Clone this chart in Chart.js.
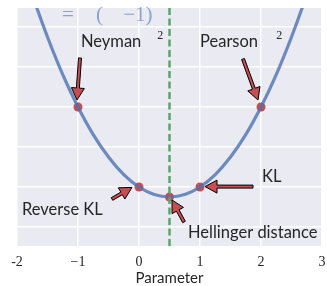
<!DOCTYPE html>
<html>
<head>
<meta charset="utf-8">
<script src="https://cdn.jsdelivr.net/npm/chart.js@4"></script>
<style>
  body { margin: 0; background: #fff; }
</style>
</head>
<body>
<canvas id="c" width="327" height="286"></canvas>
<script>
// curve samples
const curveX = [-2, -1.75, -1.5, -1.25, -1, -0.75, -0.5, -0.25, 0, 0.25, 0.5, 0.75, 1, 1.25, 1.5, 1.75, 2, 2.25, 2.5, 2.75, 3];
const curveY = [7.0, 5.81, 4.75, 3.81, 3.0, 2.31, 1.75, 1.31, 1.0, 0.81, 0.75, 0.81, 1.0, 1.31, 1.75, 2.31, 3.0, 3.81, 4.75, 5.81, 7.0];

// marked divergences
const markX = [-1, 0, 0.5, 1, 2];
const markY = [3.0, 1.0, 0.75, 1.0, 3.0];

// vertical dashed line
const vlineX = 0.5;

// ticks
const xTicks = [-2, -1, 0, 1, 2, 3];
const xTickLabels = ['-2', '\u22121', '0', '1', '2', '3'];
const yTicks = [0, 1, 2, 3, 4, 5];

// annotation labels: text, x, y (data units, left / middle)
const labelText = ['Neyman', 'Pearson', 'KL', 'Reverse KL', 'Hellinger distance'];
const labelX = [-0.951, 1.0, 2.016, -1.918, 0.803];
const labelY = [4.625, 4.625, 1.25, 0.425, -0.15];

// arrows: tail -> head (data units)
const arrowTailX = [-0.967, 1.705, 1.869, -0.443, 0.738];
const arrowTailY = [4.225, 4.2, 1.01, 0.7, 0.125];
const arrowHeadX = [-1.016, 1.951, 1.082, -0.115, 0.541];
const arrowHeadY = [3.175, 3.175, 1.01, 0.99, 0.675];

// superscripts
const supText = ['2', '2'];
const supX = [0.3, 2.25];
const supY = [4.775, 4.775];

// formula fragments at the top
const formulaText = ['=', '(', '\u22121)'];
const formulaX = [-1.262, -0.705, -0.26];
const formulaY = [5.3, 5.3, 5.3];

const bgPlugin = {
    id: 'bg',
    beforeDraw(chart) {
        const { ctx, chartArea: a } = chart;
        ctx.save();
        ctx.fillStyle = '#eaeaf2';
        ctx.fillRect(a.left, a.top, a.right - a.left, a.bottom - a.top);
        ctx.restore();
    }
};

function drawArrow(ctx, x0, y0, x1, y1) {
    const dx = x1 - x0, dy = y1 - y0;
    const len = Math.hypot(dx, dy);
    const ux = dx / len, uy = dy / len;
    const nx = -uy, ny = ux;
    const hl = 12, hw = 6.5, sw = 1.5;
    const bx = x1 - ux * hl, by = y1 - uy * hl;
    ctx.beginPath();
    ctx.moveTo(x0 + nx * sw, y0 + ny * sw);
    ctx.lineTo(bx + nx * sw, by + ny * sw);
    ctx.lineTo(bx + nx * hw, by + ny * hw);
    ctx.lineTo(x1, y1);
    ctx.lineTo(bx - nx * hw, by - ny * hw);
    ctx.lineTo(bx - nx * sw, by - ny * sw);
    ctx.lineTo(x0 - nx * sw, y0 - ny * sw);
    ctx.closePath();
    ctx.fillStyle = '#c44e52';
    ctx.fill();
    ctx.lineWidth = 1;
    ctx.strokeStyle = '#000';
    ctx.stroke();
}

const notePlugin = {
    id: 'notes',
    afterDatasetsDraw(chart) {
        const { ctx, scales: { x, y } } = chart;
        ctx.save();
        ctx.textBaseline = 'middle';
        ctx.textAlign = 'left';

        ctx.font = '21px "Liberation Serif"';
        ctx.fillStyle = 'rgba(76,114,176,0.6)';
        formulaText.forEach((t, i) => {
            ctx.fillText(t, x.getPixelForValue(formulaX[i]), y.getPixelForValue(formulaY[i]));
        });

        for (let i = 0; i < arrowTailX.length; i++) {
            drawArrow(ctx,
                x.getPixelForValue(arrowTailX[i]), y.getPixelForValue(arrowTailY[i]),
                x.getPixelForValue(arrowHeadX[i]), y.getPixelForValue(arrowHeadY[i]));
        }

        ctx.font = '16.5px Lato';
        ctx.fillStyle = '#262626';
        labelText.forEach((t, i) => {
            ctx.fillText(t, x.getPixelForValue(labelX[i]), y.getPixelForValue(labelY[i]));
        });

        ctx.font = '12px "Liberation Serif"';
        supText.forEach((t, i) => {
            ctx.fillText(t, x.getPixelForValue(supX[i]), y.getPixelForValue(supY[i]));
        });
        ctx.restore();
    }
};

new Chart(document.getElementById('c'), {
    type: 'scatter',
    data: {
        datasets: [
            {
                data: [{ x: vlineX, y: -1 }, { x: vlineX, y: 6 }],
                showLine: true,
                borderColor: '#55a868',
                borderWidth: 2.5,
                borderDash: [7, 3.5],
                pointRadius: 0
            },
            {
                data: curveX.map((v, i) => ({ x: v, y: curveY[i] })),
                showLine: true,
                borderColor: 'rgba(76,114,176,0.8)',
                borderWidth: 3.2,
                tension: 0.4,
                pointRadius: 0
            },
            {
                data: markX.map((v, i) => ({ x: v, y: markY[i] })),
                backgroundColor: '#c44e52',
                borderWidth: 0,
                pointRadius: 4.5
            }
        ]
    },
    options: {
        responsive: false,
        animation: false,
        layout: { padding: { left: 17, right: 5, top: 8, bottom: 0 } },
        plugins: { legend: { display: false }, tooltip: { enabled: false } },
        scales: {
            x: {
                type: 'linear',
                min: -2,
                max: 3,
                afterBuildTicks: s => { s.ticks = xTicks.map(v => ({ value: v })); },
                afterFit: s => { s.height = 40; s.paddingLeft = 0; s.paddingRight = 0; },
                border: { display: false },
                grid: { color: '#ffffff', lineWidth: 1.5, drawTicks: false },
                ticks: {
                    padding: 8,
                    color: '#262626',
                    font: { family: '"Liberation Serif"', size: 14 },
                    callback: v => xTickLabels[xTicks.indexOf(v)]
                },
                title: {
                    display: true,
                    text: 'Parameter',
                    color: '#262626',
                    font: { family: 'Lato', size: 15, lineHeight: 1.1 },
                    padding: { top: 0, bottom: 0 }
                }
            },
            y: {
                min: -0.475,
                max: 5.475,
                afterBuildTicks: s => { s.ticks = yTicks.map(v => ({ value: v })); },
                afterFit: s => { s.width = 0; s.paddingTop = 0; s.paddingBottom = 0; },
                border: { display: false },
                grid: { color: '#ffffff', lineWidth: 1.5, drawTicks: false },
                ticks: { display: false }
            }
        }
    },
    plugins: [bgPlugin, notePlugin]
});
</script>
</body>
</html>
